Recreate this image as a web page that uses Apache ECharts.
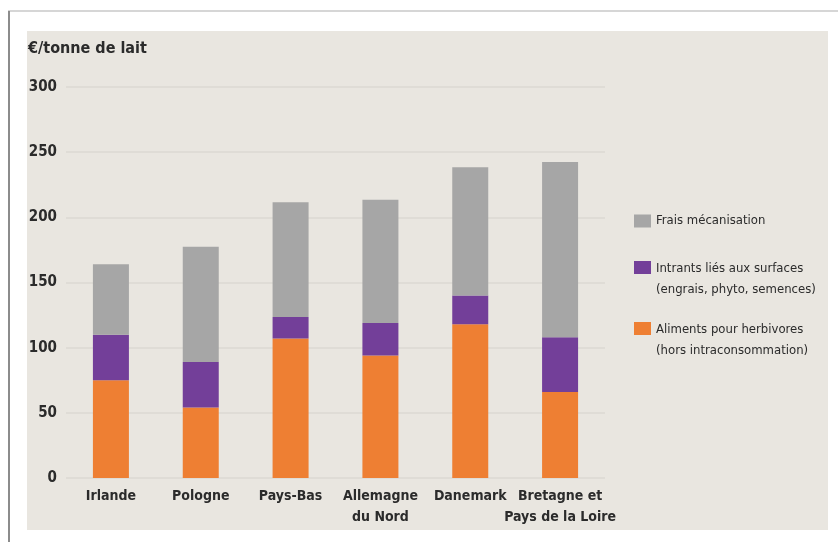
<!DOCTYPE html>
<html>
<head>
<meta charset="utf-8">
<style>
  html, body { margin: 0; padding: 0; background: #ffffff; }
  #chart { width: 838px; height: 542px; }
</style>
<script src="https://cdn.jsdelivr.net/npm/echarts@6/dist/echarts.min.js"></script>
</head>
<body>
<div id="chart"></div>
<script>
// Countries / regions compared
const categories = ['Irlande', 'Pologne', 'Pays-Bas', 'Allemagne\ndu Nord', 'Danemark', 'Bretagne et\nPays de la Loire'];

// Cost components, €/tonne de lait
const aliments = [75, 54, 107, 94, 118, 66];
const intrants = [35, 35, 16.5, 25, 22, 42];
const frais = [54, 88.5, 88, 94.5, 98.5, 134.5];

const yTicks = [0, 50, 100, 150, 200, 250, 300];

const seriesNames = {
  aliments: 'Aliments pour herbivores\n(hors intraconsommation)',
  intrants: 'Intrants liés aux surfaces\n(engrais, phyto, semences)',
  frais: 'Frais mécanisation'
};

const FONT = '"Liberation Sans Narrow", "DejaVu Sans Condensed", sans-serif';
const TEXT = '#2b2b2b';

// Legend swatches: square near the top for two-line entries, centred for one-line entries
const iconTop = 'path://M0,0h17v13h-17z M0,36h0.01v0.01h-0.01z';
const iconMid = 'path://M0,11.5h17v13h-17z M0,0h0.01v0.01h-0.01z M0,36h0.01v0.01h-0.01z';

const chart = echarts.init(document.getElementById('chart'), null, { renderer: 'canvas' });

chart.setOption({
  backgroundColor: '#ffffff',
  animation: false,
  graphic: [
    { type: 'line', shape: { x1: 8, y1: 11, x2: 838, y2: 11 }, style: { stroke: '#c9c9c9', lineWidth: 1.5 }, z: -10 },
    { type: 'line', shape: { x1: 9, y1: 11, x2: 9, y2: 542 }, style: { stroke: '#8c8c8c', lineWidth: 2 }, z: -10 },
    { type: 'rect', shape: { x: 27, y: 31, width: 801, height: 499 }, style: { fill: '#e9e6e0' }, z: -10 },
    {
      type: 'text', left: 28, top: 41,
      style: { text: '€/tonne de lait', font: 'bold 16px ' + FONT, fill: TEXT }
    }
  ],
  grid: { left: 66, right: 233, top: 87, bottom: 64 },
  legend: {
    orient: 'vertical',
    left: 629,
    top: 198,
    itemWidth: 17,
    itemHeight: 36,
    itemGap: 19,
    selectedMode: false,
    textStyle: { fontFamily: FONT, fontSize: 13, color: TEXT, lineHeight: 21 },
    data: [
      { name: seriesNames.frais, icon: iconMid },
      { name: seriesNames.intrants, icon: iconTop },
      { name: seriesNames.aliments, icon: iconTop }
    ]
  },
  xAxis: {
    type: 'category',
    data: categories,
    axisLine: { show: false },
    axisTick: { show: false },
    axisLabel: {
      margin: 8,
      fontFamily: FONT, fontSize: 14, fontWeight: 'bold', color: TEXT, lineHeight: 21,
      interval: 0
    }
  },
  yAxis: {
    type: 'value',
    min: yTicks[0],
    max: yTicks[yTicks.length - 1],
    interval: yTicks[1] - yTicks[0],
    axisLine: { show: false },
    axisTick: { show: false },
    axisLabel: { margin: 9, fontFamily: FONT, fontSize: 15, fontWeight: 'bold', color: TEXT },
    splitLine: { lineStyle: { color: '#dbd8d3', width: 1.5 } }
  },
  series: [
    {
      name: seriesNames.aliments, type: 'bar', stack: 'cout', barWidth: 36,
      itemStyle: { color: '#ee7f33' }, data: aliments
    },
    {
      name: seriesNames.intrants, type: 'bar', stack: 'cout', barWidth: 36,
      itemStyle: { color: '#733f99' }, data: intrants
    },
    {
      name: seriesNames.frais, type: 'bar', stack: 'cout', barWidth: 36,
      itemStyle: { color: '#a6a6a6' }, data: frais
    }
  ]
});
</script>
</body>
</html>
